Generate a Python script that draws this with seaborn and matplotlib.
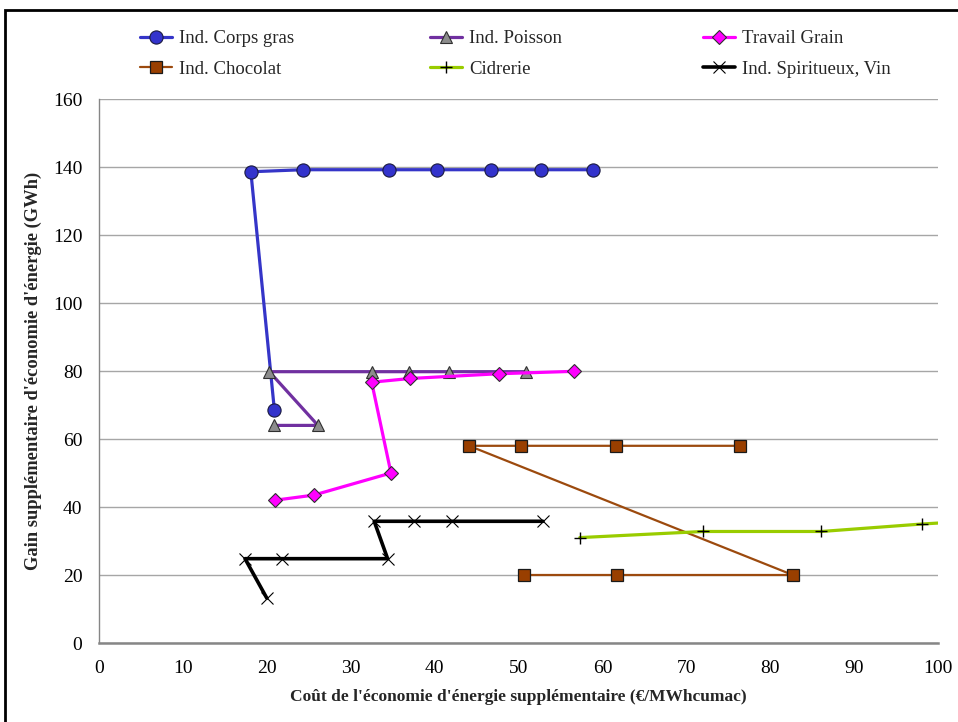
import matplotlib
matplotlib.use("Agg")
import matplotlib.pyplot as plt
import seaborn as sns
import pandas as pd
from matplotlib.patches import Rectangle

# ---- data ----
corps_x = [20.9, 18.1, 24.3, 34.6, 40.3, 46.7, 52.7, 58.9]
corps_y = [68.6, 138.6, 139.2, 139.2, 139.2, 139.2, 139.2, 139.2]

poisson_x = [20.9, 26.1, 20.3, 32.5, 37.0, 41.7, 50.9]
poisson_y = [64.0, 64.0, 79.8, 79.8, 79.8, 79.8, 79.8]

grain_x = [21.0, 25.6, 34.8, 32.5, 37.1, 47.7, 56.6]
grain_y = [42.0, 43.5, 50.0, 76.7, 77.8, 79.2, 79.9]

choco_x = [50.7, 61.7, 82.7, 44.1, 50.3, 61.6, 76.4]
choco_y = [20.0, 20.0, 20.0, 58.0, 58.0, 58.0, 58.0]

cidre_x = [57.3, 72.0, 86.1, 98.1, 105.0]
cidre_y = [31.0, 32.8, 32.8, 35.0, 36.0]

spirit_x = [20.0, 17.4, 21.8, 34.4, 32.8, 37.5, 42.1, 52.9]
spirit_y = [13.2, 24.8, 24.8, 24.8, 35.8, 35.8, 35.8, 35.8]

labels = ["Ind. Corps gras", "Ind. Poisson", "Travail Grain",
          "Ind. Chocolat", "Cidrerie", "Ind. Spiritueux, Vin"]
x_ticks = [0, 10, 20, 30, 40, 50, 60, 70, 80, 90, 100]
y_ticks = [0, 20, 40, 60, 80, 100, 120, 140, 160]

sns.set_style("white")
plt.rcParams['font.family'] = ['Liberation Serif', 'DejaVu Serif']

fig = plt.figure(figsize=(9.58, 7.22), dpi=100)
ax = fig.add_axes([99/958, 1 - 643/722, (938-99)/958, (643-99)/722])

series = [
    (corps_x, corps_y, dict(color="#3535C8", lw=2.3, marker="o", ms=9.5,
                            mfc="#3333CC", mec="#1a1a40", mew=0.8)),
    (poisson_x, poisson_y, dict(color="#7030A0", lw=2.3, marker="^", ms=8.5,
                                mfc="#8C8C8C", mec="#303030", mew=0.8)),
    (grain_x, grain_y, dict(color="#FF00FF", lw=2.3, marker="D", ms=6.8,
                            mfc="#FF00FF", mec="#303030", mew=0.8)),
    (choco_x, choco_y, dict(color="#9C4A0E", lw=1.6, marker="s", ms=9,
                            mfc="#993F00", mec="#1a1a1a", mew=0.9)),
    (cidre_x, cidre_y, dict(color="#99CC00", lw=2.3, marker="+", ms=8.5,
                            mfc="black", mec="black", mew=1.0)),
    (spirit_x, spirit_y, dict(color="#000000", lw=2.6, marker="x", ms=8,
                              mfc="black", mec="black", mew=0.8)),
]

handles = []
for (xs, ys, st), lab in zip(series, labels):
    df = pd.DataFrame({"x": xs, "y": ys})
    n_before = len(ax.lines)
    sns.lineplot(data=df, x="x", y="y", sort=False, estimator=None, ax=ax,
                 color=st["color"], linewidth=st["lw"], label=lab,
                 marker=st["marker"], markersize=st["ms"],
                 markerfacecolor=st["mfc"], markeredgecolor=st["mec"],
                 markeredgewidth=st["mew"], legend=False)
    handles.append(ax.lines[n_before])

ax.set_xlim(0, 100)
ax.set_ylim(0, 160)
ax.set_xticks(x_ticks)
ax.set_yticks(y_ticks)
ax.grid(axis="y", color="#A6A6A6", lw=1.0)
ax.grid(axis="x", visible=False)
ax.set_axisbelow(True)
for s in ["top", "right"]:
    ax.spines[s].set_visible(False)
for s in ["left", "bottom"]:
    ax.spines[s].set_color("#868686")
ax.spines["left"].set_linewidth(1.0)
ax.spines["bottom"].set_linewidth(1.8)
ax.tick_params(axis="both", direction="out", length=4, width=1,
               color="#868686", labelsize=14, labelcolor="black")
ax.tick_params(axis="y", pad=8)
ax.tick_params(axis="x", pad=8)

ax.set_xlabel("Coût de l'économie d'énergie supplémentaire (€/MWhcumac)",
              fontsize=12.5, fontweight="bold", labelpad=9)
ax.set_ylabel("Gain supplémentaire d'économie d'énergie (GWh)",
              fontsize=13.3, fontweight="bold", labelpad=8)

# legend: three columns placed individually
col_x = [140, 430, 703]
for i, cx in enumerate(col_x):
    hs = [handles[i], handles[i + 3]]
    ls = [labels[i], labels[i + 3]]
    fig.legend(hs, ls, loc="upper left",
               bbox_to_anchor=(cx / 958, 1 - 30 / 722),
               frameon=False, fontsize=13.5, borderpad=0,
               borderaxespad=0, handlelength=1.7, handletextpad=0.4,
               labelspacing=0.72)

# outer frame of the chart
fig.patches.append(Rectangle((5 / 958, -0.05), 1.0, 1 - 10 / 722 + 0.05,
                             transform=fig.transFigure, fill=False,
                             edgecolor="black", lw=2.0))

fig.savefig("out.png", dpi=100)
